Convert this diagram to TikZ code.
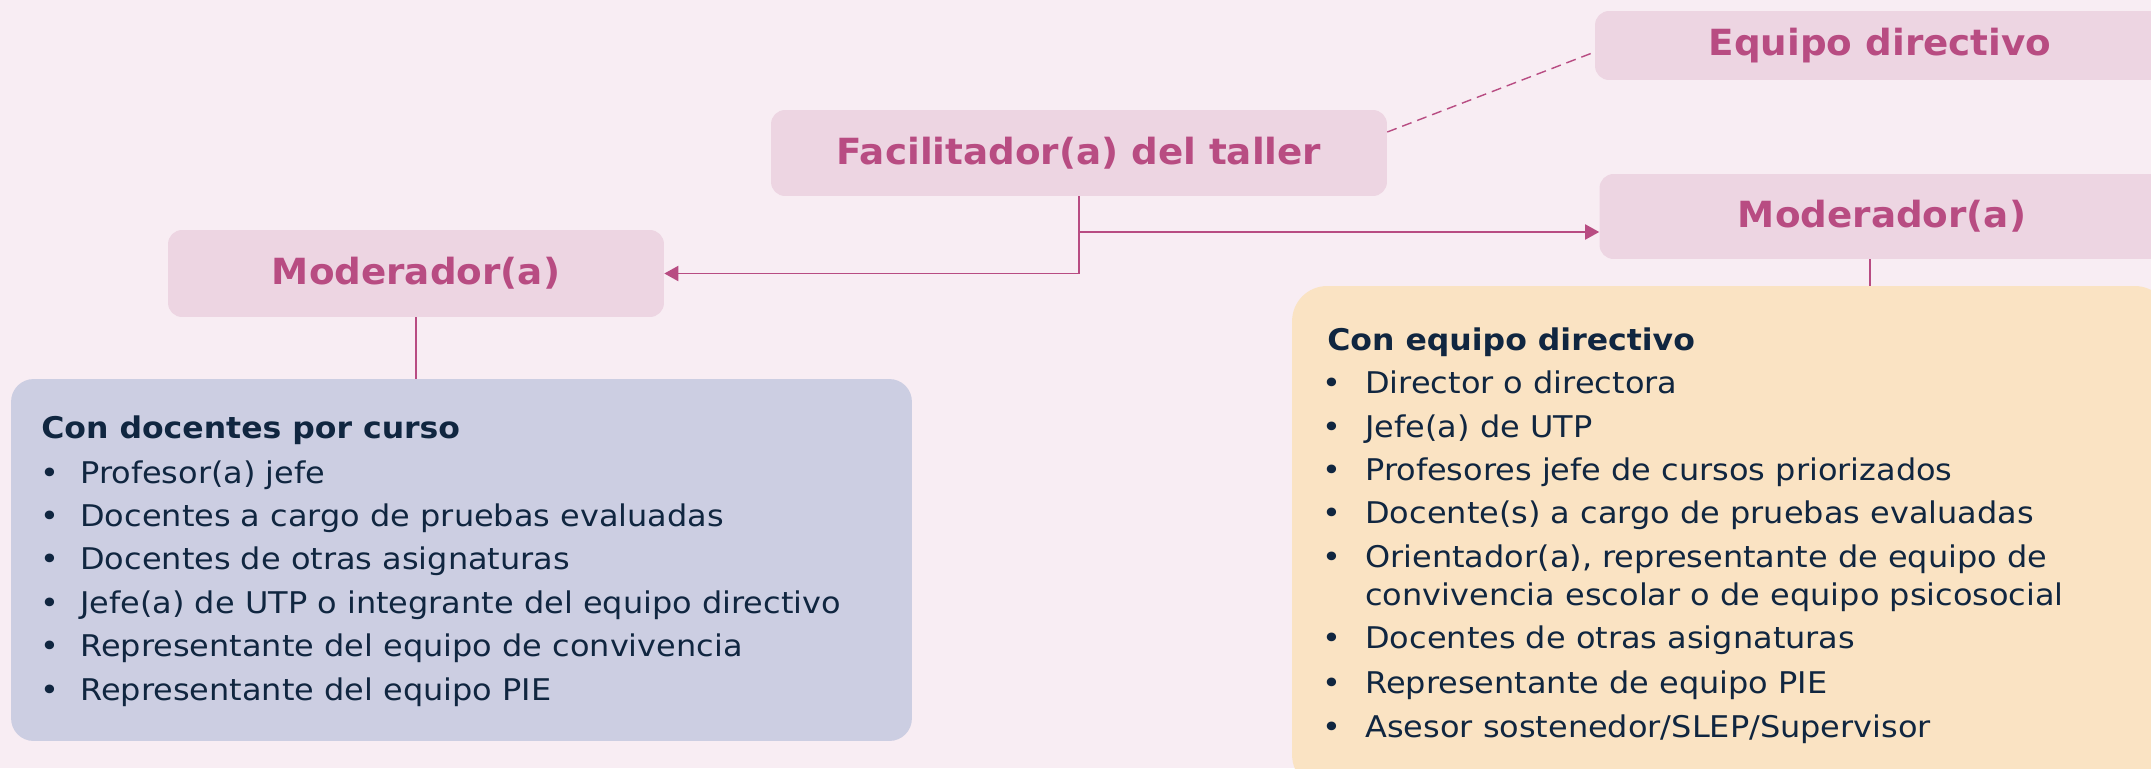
\documentclass[tikz,border=0pt]{standalone}
\usepackage{fontspec}
\setmainfont[FakeStretch=1.07]{DejaVu Sans}
\newfontfamily\cabecera[FakeStretch=1.035]{DejaVu Sans}
\newfontfamily\titfont[FakeStretch=1.055]{DejaVu Sans}
\usetikzlibrary{arrows.meta}

\definecolor{fondo}{RGB}{248,237,243}
\definecolor{rosa}{RGB}{237,213,226}
\definecolor{morado}{RGB}{184,76,130}
\definecolor{azul}{RGB}{204,206,226}
\definecolor{crema}{RGB}{250,227,195}
\definecolor{tinta}{RGB}{16,38,64}

\tikzset{
  caja/.style={fill=rosa, rounded corners=0.28cm, text=morado, inner sep=0pt,
    font=\cabecera\fontsize{20.5}{24}\selectfont\bfseries},
  grupo/.style={rounded corners=0.45cm, inner sep=0pt},
  titulo/.style={anchor=base west, inner sep=0pt, text=tinta,
    font=\titfont\fontsize{17}{21.6}\selectfont\bfseries},
  punto/.style={anchor=base west, inner sep=0pt, text=tinta,
    font=\fontsize{17}{21.6}\selectfont},
  renglon/.style={anchor=base west, inner sep=0pt, text=tinta,
    font=\fontsize{17}{21.6}\selectfont},
  conector/.style={draw=morado, line width=1.1pt},
  flecha/.style={conector, -{Triangle[length=0.28cm,width=0.3cm]}},
}

\begin{document}
\begin{tikzpicture}[x=0.02cm,y=-0.02cm]
\useasboundingbox (0,0) rectangle (2151,768);
\clip (0,0) rectangle (2151,768);
\fill[fondo] (0,0) rectangle (2151,768);

% cajas de arriba
\node[caja, minimum width=12.32cm, minimum height=1.72cm] (facil) at (1079,153) {Facilitador(a) del taller};
\node[caja, minimum width=11.4cm, minimum height=1.38cm] (equipo) at (1880,45.5) {Equipo directivo};
\node[caja, minimum width=9.92cm, minimum height=1.74cm] (modizq) at (416,273.5) {Moderador(a)};
\node[caja, minimum width=11.3cm, minimum height=1.7cm] (modder) at (1882,216.5) {Moderador(a)};

% grupos
\node[grupo, fill=azul, minimum width=18.02cm, minimum height=7.24cm] (azul) at (461.5,560) {};
\node[grupo, fill=crema, rounded corners=0.7cm, minimum width=17.56cm, minimum height=10.08cm] (crema) at (1731,538) {};

% conectores
\draw[flecha] (facil.south) |- (modizq.east);
\coordinate (bifurca) at (1079,232);
\draw[flecha] (bifurca) -- (bifurca -| modder.west);
\draw[conector, line width=0.8pt, dash pattern=on 0.2cm off 0.12cm] ([yshift=0.42cm]facil.east) -- ([yshift=-0.13cm]equipo.west);
\draw[conector, line width=0.8pt] (modizq.south) -- (modizq.south |- azul.north);
\draw[conector, line width=0.8pt] ([xshift=-0.24cm]modder.south) -- ([xshift=-0.24cm]modder.south |- crema.north);

% con docentes por curso
\node[titulo] (tizq) at (41,438) {Con docentes por curso};
\foreach \y/\texto [count=\i] in {483/Profesor(a) jefe,
    526.4/Docentes a cargo de pruebas evaluadas,
    569.8/Docentes de otras asignaturas,
    613.2/Jefe(a) de UTP o integrante del equipo directivo,
    656.6/Representante del equipo de convivencia,
    700/Representante del equipo PIE}
{
  \node[punto] (pizq-\i) at (40,\y) {•};
  \node[renglon] (rizq-\i) at (80,\y) {\texto};
}

% con equipo directivo
\node[titulo] (tder) at (1327,350) {Con equipo directivo};
\foreach \y/\texto [count=\i] in {393/Director o directora,
    437/Jefe(a) de UTP,
    480/Profesores jefe de cursos priorizados,
    523/Docente(s) a cargo de pruebas evaluadas,
    567/{Orientador(a), representante de equipo de},
    648/Docentes de otras asignaturas,
    693/Representante de equipo PIE,
    737/{Asesor sostenedor/SLEP/Supervisor}}
{
  \node[punto] (pder-\i) at (1322,\y) {•};
  \node[renglon] (rder-\i) at (1365,\y) {\texto};
}
\node[renglon] (rder-5b) at (1365,605) {convivencia escolar o de equipo psicosocial};
\end{tikzpicture}
\end{document}
